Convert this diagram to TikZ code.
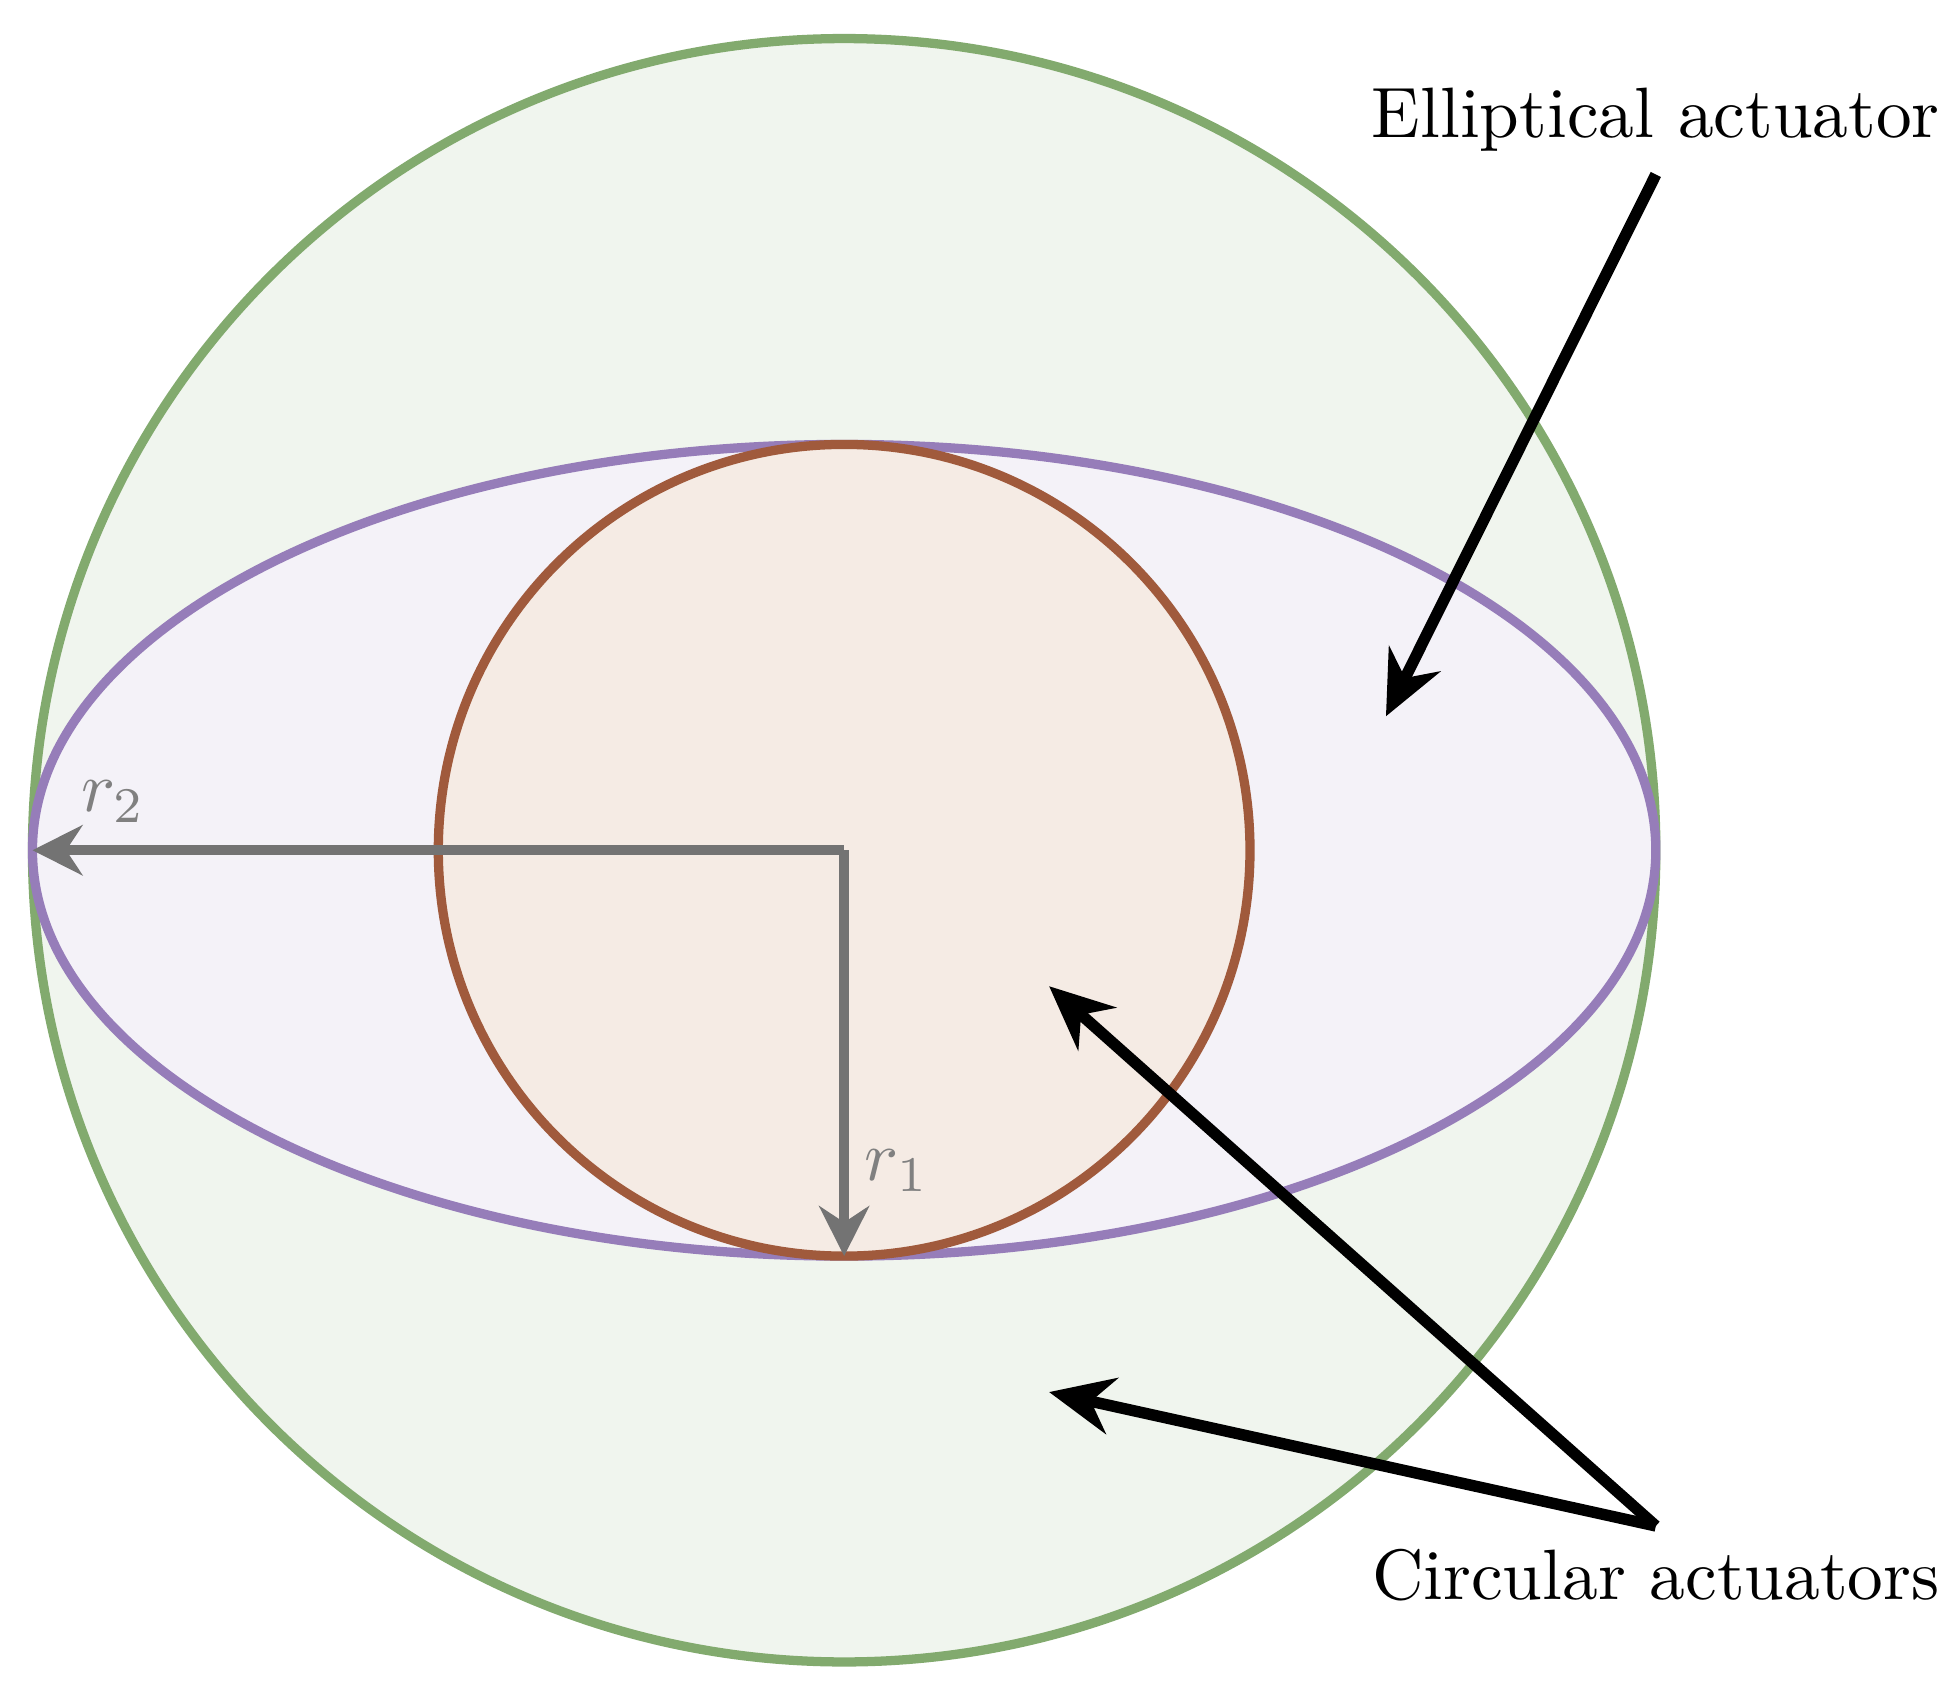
\documentclass[tikz,border=0pt]{standalone}
\usepackage{tikz}
\usetikzlibrary{arrows.meta}
\definecolor{outergreen}{RGB}{130,170,110}
\definecolor{ellpurple}{RGB}{150,125,185}
\definecolor{innerbrown}{RGB}{160,90,60}
\definecolor{innerfill}{RGB}{245,235,228}
\begin{document}
\begin{tikzpicture}[line width=1.3pt,
  pointer/.style={-{Stealth[length=9pt,width=8pt,inset=3pt]}, line width=1.6pt},
  radius line/.style={-{Stealth[length=7pt,width=7pt]}, gray!110, line width=1.4pt}]
\useasboundingbox (-4.16,-4.15) rectangle (5.41,4.19);
\draw[outergreen, fill=outergreen!12] (0,0) circle (4);
\draw[ellpurple, fill=ellpurple!10] (0,0) ellipse (4 and 2);
\draw[innerbrown, fill=innerfill] (0,0) circle (2);

\coordinate (center) at (0,0);
\coordinate (leftend) at (-4,0);
\coordinate (bottomend) at (0,-2);
\draw[radius line] (center) -- (leftend);
\draw[radius line] (center) -- (bottomend);
\node[text=gray] (rtwo) at (-3.6,0.24) {$r_2$};
\node[text=gray] (rone) at (0.26,-1.58) {$r_1$};

\node (elltext) at (4.0,3.6) {Elliptical actuator};
\node (circtext) at (4.0,-3.57) {Circular actuators};
\coordinate (ellstart) at (4.0,3.33);
\coordinate (elltip) at (2.67,0.66);
\coordinate (circstart) at (4.0,-3.33);
\coordinate (innertip) at (1.01,-0.67);
\coordinate (outertip) at (1.01,-2.67);
\draw[pointer] (ellstart) -- (elltip);
\draw[pointer] (circstart) -- (innertip);
\draw[pointer] (circstart) -- (outertip);
\end{tikzpicture}
\end{document}
